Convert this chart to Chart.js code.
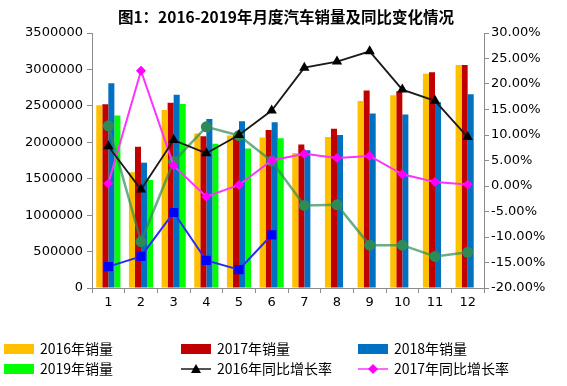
<!DOCTYPE html>
<html>
<head>
<meta charset="utf-8">
<script src="https://cdn.jsdelivr.net/npm/chart.js@4/dist/chart.umd.min.js"></script>
<style>
  body { margin: 0; background: #fff; }
  canvas { display: block; }
</style>
</head>
<body>
<canvas id="chart" width="567" height="386"></canvas>
<script>
const months = ['1', '2', '3', '4', '5', '6', '7', '8', '9', '10', '11', '12'];

const sales2016 = [2507000, 1589000, 2443000, 2122000, 2092000, 2066000, 1853000, 2073000, 2566000, 2645000, 2940000, 3060000];
const sales2017 = [2522000, 1938000, 2544000, 2084000, 2095000, 2167000, 1970000, 2187000, 2710000, 2700000, 2960000, 3060000];
const sales2018 = [2810000, 1720000, 2653000, 2319000, 2288000, 2274000, 1889000, 2101000, 2394000, 2381000, 2548000, 2660000];
const sales2019 = [2367000, 1482000, 2524000, 1981000, 1913000, 2056000, null, null, null, null, null, null];

const growth2016 = [7.8, -0.7, 9.0, 6.4, 10.0, 14.8, 23.2, 24.4, 26.4, 18.9, 16.7, 9.6];
const growth2017 = [0.5, 22.6, 4.0, -2.1, 0.2, 5.0, 6.3, 5.5, 5.9, 2.3, 0.8, 0.3];
const growth2018 = [11.8, -10.9, 4.8, 11.6, 9.9, 4.9, -3.8, -3.7, -11.6, -11.6, -13.8, -13.0];
const growth2019 = [-15.8, -13.8, -5.2, -14.6, -16.4, -9.6, null, null, null, null, null, null];

const leftTicks = [0, 500000, 1000000, 1500000, 2000000, 2500000, 3000000, 3500000];
const rightTicks = [-20, -15, -10, -5, 0, 5, 10, 15, 20, 25, 30];

const titleText = '图1：2016-2019年月度汽车销量及同比变化情况';
const axisColor = '#8c8c8c';
const tickFont = { family: 'DejaVu Sans', size: 13 };

const ctx = document.getElementById('chart').getContext('2d');

function bar(label, data, color) {
  return { type: 'bar', label: label, data: data, backgroundColor: color, yAxisID: 'y', order: 2 };
}

function line(label, data, color, lineColor, shape, radius, width) {
  return {
    type: 'line', label: label, data: data, yAxisID: 'y1', order: 1,
    borderColor: lineColor, borderWidth: width, backgroundColor: color,
    pointBackgroundColor: color, pointBorderColor: color, pointBorderWidth: 0,
    pointStyle: shape, pointRadius: radius, tension: 0, spanGaps: false
  };
}

const titlePlugin = {
  id: 'titleText',
  afterDraw(chart) {
    const c = chart.ctx;
    c.save();
    c.fillStyle = '#000';
    c.font = 'bold 15.5px "Noto Sans CJK SC"';
    c.textAlign = 'center';
    c.textBaseline = 'middle';
    c.fillText(titleText, 286, 17);
    c.restore();
  }
};

const legendPlugin = {
  id: 'gridLegend',
  afterDraw(chart) {
    const c = chart.ctx;
    const shown = [0, 1, 2, 3, 4, 5];
    const colX = [4, 181, 358];
    const rowY = [349, 369];
    c.save();
    c.font = '14px "Noto Sans CJK SC"';
    c.textBaseline = 'middle';
    shown.forEach((idx, i) => {
      const ds = chart.data.datasets[idx];
      const x = colX[i % 3];
      const y = rowY[Math.floor(i / 3)];
      if (ds.type === 'bar') {
        c.fillStyle = ds.backgroundColor;
        c.fillRect(x, y - 5, 30, 10);
      } else {
        c.strokeStyle = ds.borderColor;
        c.lineWidth = 1.5;
        c.beginPath();
        c.moveTo(x, y);
        c.lineTo(x + 30, y);
        c.stroke();
        c.fillStyle = ds.pointBackgroundColor;
        c.beginPath();
        const cx = x + 15;
        if (ds.pointStyle === 'triangle') {
          c.moveTo(cx, y - 5);
          c.lineTo(cx + 5, y + 4);
          c.lineTo(cx - 5, y + 4);
        } else {
          c.moveTo(cx, y - 5);
          c.lineTo(cx + 5, y);
          c.lineTo(cx, y + 5);
          c.lineTo(cx - 5, y);
        }
        c.closePath();
        c.fill();
      }
      c.fillStyle = '#000';
      c.fillText(ds.label, x + 36, y);
    });
    c.restore();
  }
};

new Chart(ctx, {
  data: {
    labels: months,
    datasets: [
      bar('2016年销量', sales2016, '#FFC000'),
      bar('2017年销量', sales2017, '#C00000'),
      bar('2018年销量', sales2018, '#0070C0'),
      bar('2019年销量', sales2019, '#00FF00'),
      line('2016年同比增长率', growth2016, '#000000', '#1a1a1a', 'triangle', 6, 1.8),
      line('2017年同比增长率', growth2017, '#FF00FF', '#FF33FF', 'rectRot', 5, 2),
      line('2018年同比增长率', growth2018, '#2E8B57', 'rgba(46,139,87,0.7)', 'circle', 5.5, 2.5),
      line('2019年同比增长率', growth2019, '#0000FF', '#2a2aff', 'rect', 6.5, 2)
    ]
  },
  options: {
    responsive: false,
    animation: false,
    layout: { padding: { top: 33, bottom: 73, left: 0, right: 0 } },
    datasets: {
      bar: { barPercentage: 1, categoryPercentage: 0.74 }
    },
    plugins: {
      legend: { display: false },
      tooltip: { enabled: false }
    },
    scales: {
      x: {
        grid: { display: true, drawOnChartArea: false, drawTicks: true, tickLength: 5, color: axisColor, offset: true },
        border: { display: true, color: axisColor },
        ticks: { color: '#000', font: tickFont, padding: 2 },
        afterFit(scale) { scale.height = 25; }
      },
      y: {
        position: 'left',
        min: 0,
        max: 3500000,
        afterBuildTicks(scale) { scale.ticks = leftTicks.map(v => ({ value: v })); },
        grid: { display: true, drawOnChartArea: false, drawTicks: true, tickLength: 5, color: axisColor },
        border: { display: true, color: axisColor },
        ticks: { color: '#000', font: tickFont, padding: 4, callback: v => String(v) },
        afterFit(scale) { scale.width = 92; }
      },
      y1: {
        position: 'right',
        min: -20,
        max: 30,
        afterBuildTicks(scale) { scale.ticks = rightTicks.map(v => ({ value: v })); },
        grid: { display: true, drawOnChartArea: false, drawTicks: true, tickLength: 5, color: axisColor },
        border: { display: true, color: axisColor },
        ticks: { color: '#000', font: tickFont, padding: 2, callback: v => v.toFixed(2) + '%' },
        afterFit(scale) { scale.width = 83; }
      }
    }
  },
  plugins: [titlePlugin, legendPlugin]
});
</script>
</body>
</html>
